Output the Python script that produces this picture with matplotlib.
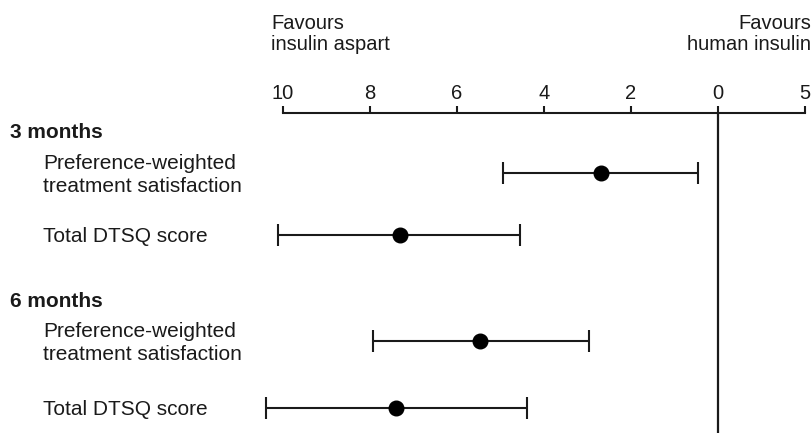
import matplotlib
matplotlib.use("Agg")
import matplotlib.pyplot as plt
from matplotlib.transforms import blended_transform_factory

plt.rcParams["font.family"] = ["Liberation Sans", "DejaVu Sans"]

INK = "#1a1a1a"

# estimated treatment difference with 95% CI (positive favours insulin aspart)
groups = ["3 months", "6 months"]
outcomes = ["Preference-weighted\ntreatment satisfaction", "Total DTSQ score"]
estimates = [2.70, 7.32, 5.47, 7.40]
ci_low = [0.46, 4.56, 2.97, 4.38]
ci_high = [4.94, 10.11, 7.93, 10.39]

tick_values = [10, 8, 6, 4, 2, 0, -2]
tick_labels = ["10", "8", "6", "4", "2", "0", "5"]

# vertical layout, measured down from the top of the figure
group_y = [133, 302]
row_y = [173, 235, 341, 408]

W, H = 812, 433
fig = plt.figure(figsize=(W / 100, H / 100), dpi=100)
ax = fig.add_axes([283 / W, 0, (805 - 283) / W, 1 - 113 / H])

ax.set_xlim(10, -2)
ax.set_ylim(H, 113)

for spine in ["left", "right", "bottom"]:
    ax.spines[spine].set_visible(False)
ax.spines["top"].set_linewidth(1.5)
ax.spines["top"].set_color(INK)
ax.xaxis.tick_top()
ax.set_xticks(tick_values)
ax.set_xticklabels(tick_labels)
ax.tick_params(axis="x", direction="out", length=5, width=1.5, pad=2,
               labelsize=14.5, colors=INK)
ax.set_yticks([])
ax.patch.set_alpha(0)

ax.axvline(0, color=INK, lw=1.6)

for est, lo, hi, y in zip(estimates, ci_low, ci_high, row_y):
    cont = ax.errorbar(est, y, xerr=[[est - lo], [hi - est]], fmt="o",
                       color="black", ecolor=INK, elinewidth=1.5, capsize=8,
                       capthick=1.5, markersize=10.5)
    for art in cont.lines[0:1] + tuple(cont.lines[1]) + tuple(cont.lines[2]):
        art.set_clip_on(False)

lab = blended_transform_factory(fig.transFigure, ax.transData)
for name, gy in zip(groups, group_y):
    ax.text(10 / W, gy, name, transform=lab, ha="left", va="center",
            fontsize=15, fontweight="bold", color=INK)
for i, y in enumerate(row_y):
    ax.text(43 / W, y + 2, outcomes[i % 2], transform=lab, ha="left", va="center",
            fontsize=15, color=INK, linespacing=1.3)

fig.text(271 / W, 1 - 34 / H, "Favours\ninsulin aspart", ha="left", va="center",
         fontsize=14.5, color=INK, linespacing=1.15)
fig.text(811 / W, 1 - 34 / H, "Favours\nhuman insulin", ha="right", va="center",
         fontsize=14.5, color=INK, linespacing=1.15, multialignment="right")

fig.savefig("out.png", dpi=100)
